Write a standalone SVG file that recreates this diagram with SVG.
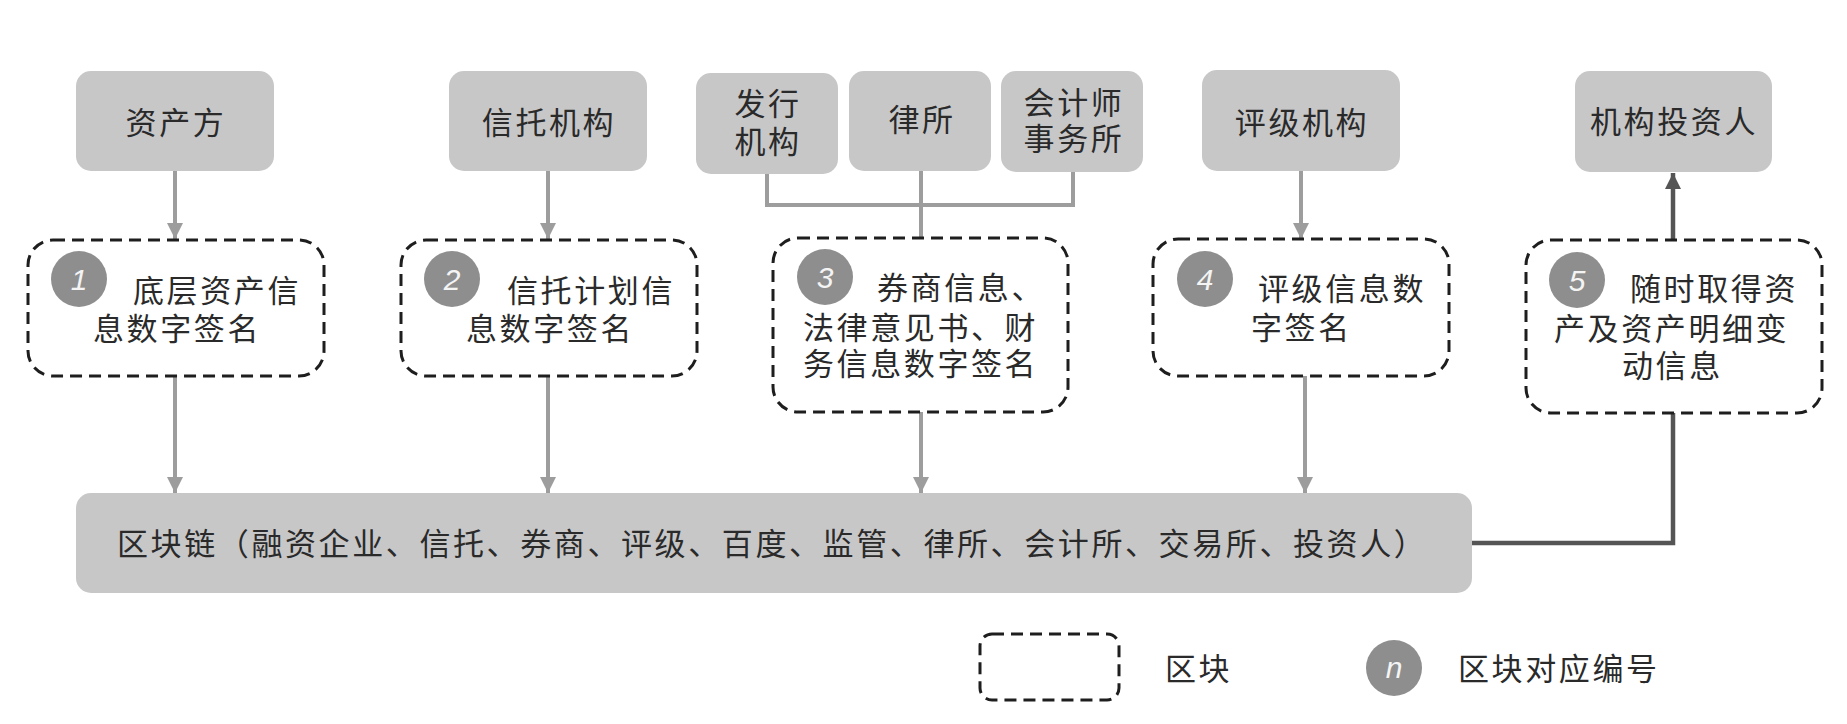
<svg xmlns="http://www.w3.org/2000/svg" width="1847" height="724" viewBox="0 0 1847 724">
<style>
.box{fill:#c7c7c8}
.blk{fill:none;stroke:#1e1e1e;stroke-width:3;stroke-dasharray:12 7}
.t{font-family:"Liberation Sans","Noto Sans CJK SC","Noto Sans CJK TC",sans-serif;font-size:31px;fill:#2a2a2a;letter-spacing:2.6px}
.m{text-anchor:middle}
.num{fill:#8e8e8e}
.nt{font-family:"Liberation Sans",sans-serif;font-style:italic;font-size:30px;fill:#f4f4f4;text-anchor:middle}
.c{fill:none;stroke:#9d9d9d;stroke-width:4}
.cd{fill:none;stroke:#555;stroke-width:4.5}
</style>
<defs>
<marker id="ag" markerUnits="userSpaceOnUse" markerWidth="16" markerHeight="16" refX="16" refY="8" orient="auto"><path d="M0,0 L16,8 L0,16 z" fill="#9d9d9d"/></marker>
<marker id="ad" markerUnits="userSpaceOnUse" markerWidth="16" markerHeight="16" refX="16" refY="8" orient="auto"><path d="M0,0 L16,8 L0,16 z" fill="#555"/></marker>
</defs>
<rect width="1847" height="724" fill="#fff"/>

<g id="connectors">
<line class="c" x1="175" y1="171" x2="175" y2="239" marker-end="url(#ag)"/>
<line class="c" x1="548" y1="171" x2="548" y2="239" marker-end="url(#ag)"/>
<line class="c" x1="1301" y1="171" x2="1301" y2="239" marker-end="url(#ag)"/>
<polyline class="c" points="767,174 767,205 1073,205 1073,171"/>
<line class="c" x1="921" y1="171" x2="921" y2="238"/>
<line class="c" x1="175" y1="376" x2="175" y2="493" marker-end="url(#ag)"/>
<line class="c" x1="548" y1="376" x2="548" y2="493" marker-end="url(#ag)"/>
<line class="c" x1="921" y1="412" x2="921" y2="493" marker-end="url(#ag)"/>
<line class="c" x1="1305" y1="376" x2="1305" y2="493" marker-end="url(#ag)"/>
<polyline class="cd" points="1472,543 1673,543 1673,413"/>
<line class="cd" x1="1673" y1="240" x2="1673" y2="173" marker-end="url(#ad)"/>
</g>

<g id="n-zichanfang"><rect class="box" x="76" y="71" width="198" height="100" rx="15"/><text class="t m" x="176" y="134">资产方</text></g>
<g id="n-xintuo"><rect class="box" x="449" y="71" width="198" height="100" rx="15"/><text class="t m" x="549" y="134">信托机构</text></g>
<g id="n-faxing"><rect class="box" x="696" y="73" width="142" height="101" rx="15"/><text class="t m" x="768" y="115">发行</text><text class="t m" x="768" y="153">机构</text></g>
<g id="n-lvsuo"><rect class="box" x="849" y="71" width="142" height="100" rx="15"/><text class="t m" x="922" y="131">律所</text></g>
<g id="n-kuaiji"><rect class="box" x="1001" y="71" width="142" height="101" rx="15"/><text class="t m" x="1074" y="114">会计师</text><text class="t m" x="1074" y="150">事务所</text></g>
<g id="n-pingji"><rect class="box" x="1202" y="70" width="198" height="101" rx="15"/><text class="t m" x="1302" y="134">评级机构</text></g>
<g id="n-touziren"><rect class="box" x="1575" y="71" width="197" height="101" rx="15"/><text class="t m" x="1674" y="133">机构投资人</text></g>

<g id="b1"><rect class="blk" x="28" y="240" width="296" height="136" rx="25"/><circle class="num" cx="79" cy="279" r="28"/><text class="nt" x="79" y="290">1</text><text class="t" x="133" y="302">底层资产信</text><text class="t" x="93" y="340">息数字签名</text></g>
<g id="b2"><rect class="blk" x="401" y="240" width="296" height="136" rx="25"/><circle class="num" cx="452" cy="279" r="28"/><text class="nt" x="452" y="290">2</text><text class="t" x="507" y="302">信托计划信</text><text class="t" x="466" y="340">息数字签名</text></g>
<g id="b3"><rect class="blk" x="773" y="238" width="295" height="174" rx="25"/><circle class="num" cx="825" cy="277" r="28"/><text class="nt" x="825" y="288">3</text><text class="t" x="877" y="299">券商信息、</text><text class="t" x="803" y="339">法律意见书、财</text><text class="t" x="803" y="375">务信息数字签名</text></g>
<g id="b4"><rect class="blk" x="1153" y="239" width="296" height="137" rx="25"/><circle class="num" cx="1205" cy="279" r="28"/><text class="nt" x="1205" y="290">4</text><text class="t" x="1258" y="300">评级信息数</text><text class="t" x="1251" y="339">字签名</text></g>
<g id="b5"><rect class="blk" x="1526" y="240" width="296" height="173" rx="25"/><circle class="num" cx="1577" cy="280" r="28"/><text class="nt" x="1577" y="291">5</text><text class="t" x="1630" y="300">随时取得资</text><text class="t" x="1554" y="340">产及资产明细变</text><text class="t" x="1622" y="377">动信息</text></g>

<g id="n-blockchain"><rect class="box" x="76" y="493" width="1396" height="100" rx="15"/><text class="t" x="117" y="555">区块链（融资企业、信托、券商、评级、百度、监管、律所、会计所、交易所、投资人）</text></g>

<g id="legend">
<rect class="blk" x="980" y="634" width="139" height="66" rx="12"/>
<text class="t" x="1165" y="680">区块</text>
<circle class="num" cx="1394" cy="668" r="28"/><text class="nt" x="1394" y="678">n</text>
<text class="t" x="1458" y="680">区块对应编号</text>
</g>
</svg>
